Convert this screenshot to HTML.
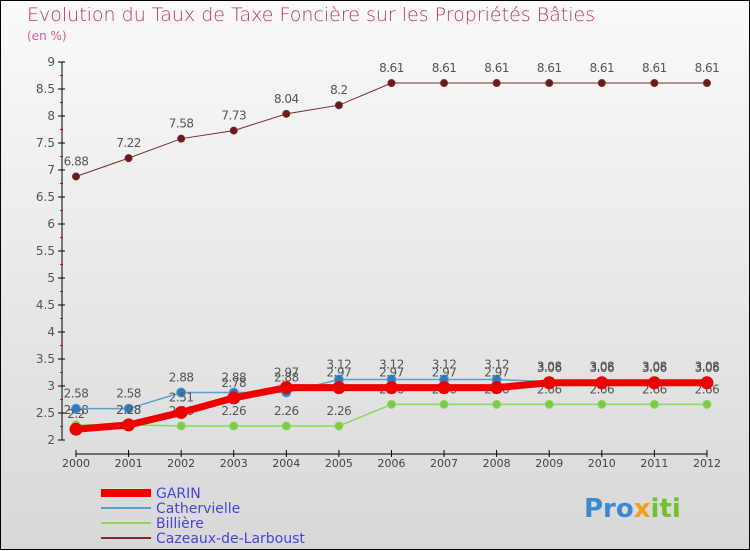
<!DOCTYPE html>
<html><head><meta charset="utf-8"><style>
body{margin:0;width:750px;height:550px;overflow:hidden;font-family:"DejaVu Sans","Liberation Sans",sans-serif}
#wrap{position:relative;width:748px;height:548px;border:1px solid #000;background:linear-gradient(#fafafa,#d8d8d8)}
.t{position:absolute;color:#c03062}
</style></head><body>
<div id="wrap">
<div class="t" style="left:26px;top:3px;font-size:19px;font-weight:200">Evolution du Taux de Taxe Foncière sur les Propriétés Bâties</div>
<div class="t" style="left:26px;top:28px;font-size:12px;color:#d06090">(en %)</div>
<svg id="c" width="750" height="550" style="position:absolute;left:0;top:0"></svg>
</div>
<script>
const years=[2000,2001,2002,2003,2004,2005,2006,2007,2008,2009,2010,2011,2012];
const garin=[2.2,2.28,2.51,2.78,2.97,2.97,2.97,2.97,2.97,3.06,3.06,3.06,3.06];
const cath=[2.58,2.58,2.88,2.88,2.88,3.12,3.12,3.12,3.12,3.08,3.08,3.08,3.08];
const bill=[2.28,2.28,2.26,2.26,2.26,2.26,2.66,2.66,2.66,2.66,2.66,2.66,2.66];
const caz=[6.88,7.22,7.58,7.73,8.04,8.2,8.61,8.61,8.61,8.61,8.61,8.61,8.61];
const yTicks=[2,2.5,3,3.5,4,4.5,5,5.5,6,6.5,7,7.5,8,8.5,9];
const svg=document.getElementById('c');const NS='http://www.w3.org/2000/svg';
const X=i=>75+i*52.58, Y=v=>439-(v-2)*54;
function mk(t,a,p){const e=document.createElementNS(NS,t);for(const k in a)e.setAttribute(k,a[k]);(p||svg).appendChild(e);return e;}
let ax=mk('line',{x1:61,y1:Y(9),x2:61,y2:439,stroke:'#000'});

let bx=mk('line',{x1:75,y1:453,x2:706,y2:453,stroke:'#000'});

yTicks.forEach(v=>{mk('line',{x1:57,y1:Y(v),x2:64,y2:Y(v),stroke:'#000'});
mk('line',{x1:59,y1:Y(v+0.25),x2:62,y2:Y(v+0.25),stroke:v<9?'#e00':'none'});
const t=mk('text',{x:54,y:Y(v)+4,'text-anchor':'end','font-size':12,fill:'#555'});t.textContent=v;
});
years.forEach((y,i)=>{mk('line',{x1:X(i),y1:449,x2:X(i),y2:456,stroke:'#000'});
const t=mk('text',{x:X(i),y:466,'text-anchor':'middle','font-size':11,fill:'#444'});t.textContent=y;
});
function series(d,col,w,r,name,dot){
const g=mk('g',{});
mk('polyline',{points:d.map((v,i)=>X(i)+','+Y(v)).join(' '),fill:'none',stroke:col,'stroke-width':w},g);
d.forEach((v,i)=>{const c=mk('circle',{cx:X(i),cy:Y(v),r:r,fill:dot,stroke:col},g);
const t=mk('text',{x:X(i),y:Y(v)-11,'text-anchor':'middle','font-size':12,fill:'#555','letter-spacing':'-0.5'},g);t.textContent=v;});}
series(caz,'#7a2b2b',1,3.5,'cazeaux-series','#6b1a1a');
series(bill,'#88d860',1.5,4,'billiere-series','#7acc44');
series(cath,'#5aa0d0',1.5,4.5,'cathervielle-series','#2e7cc0');
series(garin,'#ee0000',7,6,'garin-series','#ee0000');
const leg=[['GARIN','#ee0000',8],['Cathervielle','#5aa0d0',2],['Billière','#88d860',2],['Cazeaux-de-Larboust','#7a2b2b',2]];
leg.forEach((l,i)=>{const g=mk('g',{});
const y=492+i*15;mk('line',{x1:100,y1:y,x2:150,y2:y,stroke:l[1],'stroke-width':l[2]},g);
const t=mk('text',{x:155,y:y+5,'font-size':14,fill:'#4444dd'},g);t.textContent=l[0];});
const lg=mk('text',{x:583,y:516,'font-size':26,'font-weight':'bold',fill:'#3a8ad0'});

lg.innerHTML='Pro<tspan fill="#f0a020">x</tspan><tspan fill="#70c030">iti</tspan>';
</script>
</body></html>
